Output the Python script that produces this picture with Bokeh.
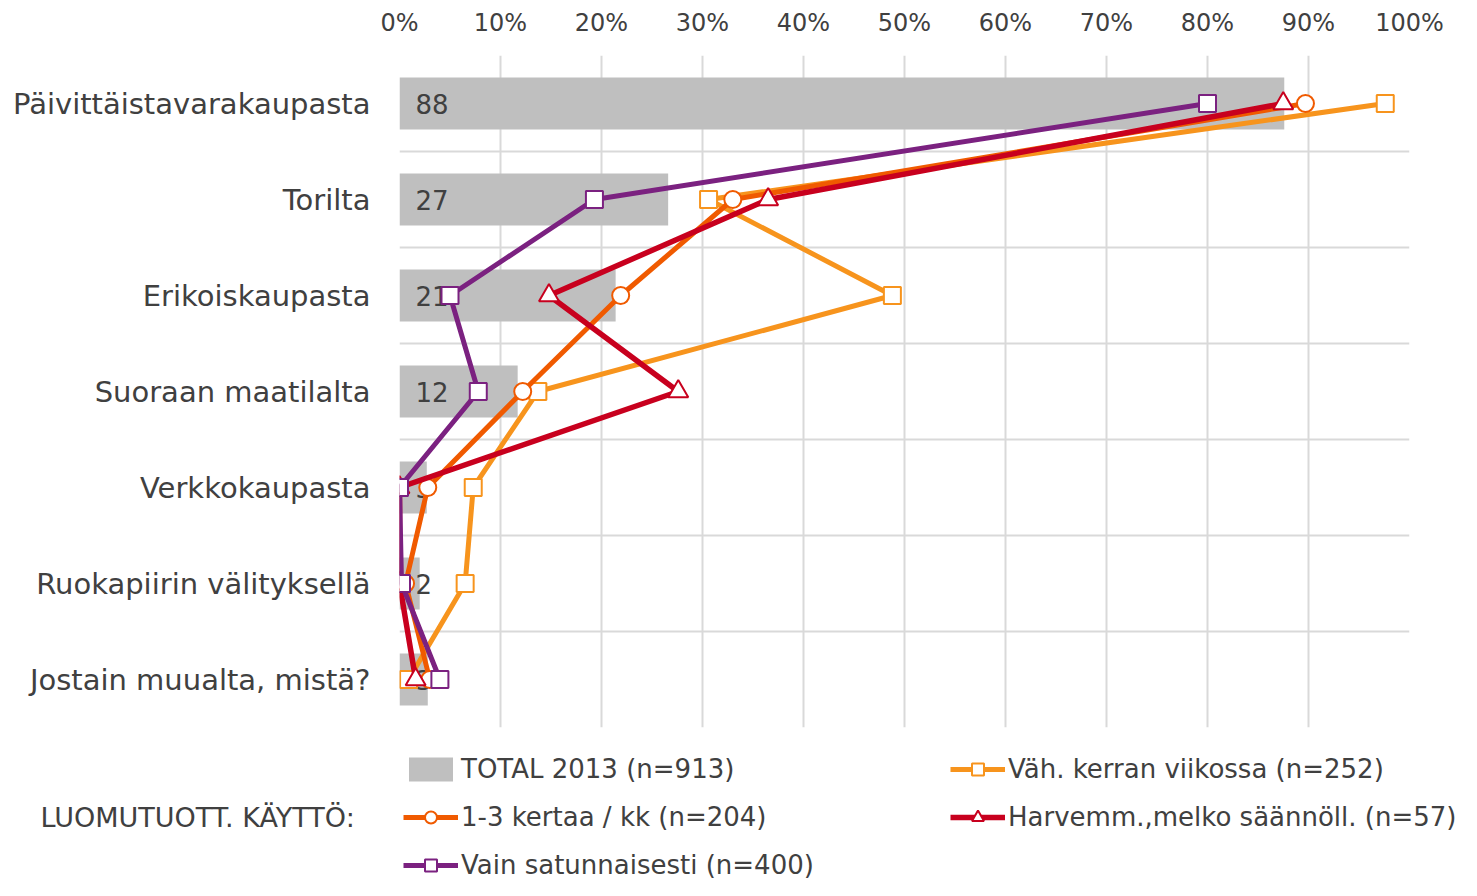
from bokeh.plotting import figure
from bokeh.layouts import column
from bokeh.models import Range1d, FixedTicker, Legend, LegendItem, Label
from bokeh.core.properties import value
from bokeh.embed import file_html
from bokeh.resources import INLINE

categories = ["Päivittäistavarakaupasta", "Torilta", "Erikoiskaupasta",
              "Suoraan maatilalta", "Verkkokaupasta", "Ruokapiirin välityksellä",
              "Jostain muualta, mistä?"]
total_2013 = [87.6, 26.6, 21.4, 11.7, 2.7, 2.0, 2.8]
vah_viikossa = [97.6, 30.6, 48.8, 13.7, 7.3, 6.5, 0.9]
kertaa_kk = [89.7, 33.0, 21.9, 12.2, 2.8, 0.6, 3.0]
harvemm = [87.5, 36.5, 14.8, 27.6, 0.0, 0.0, 1.6]
vain_satunn = [80.0, 19.3, 5.0, 7.8, 0.0, 0.2, 4.0]
x_ticks = list(range(0, 101, 10))

FONT = "DejaVu Sans"
TXT = "#404040"
BAR = "#BFBFBF"
n = len(categories)
ypos = [i + 0.5 for i in range(n)]

MAIN_H = 729
p = figure(width=1461, height=MAIN_H, output_backend="svg", toolbar_location=None,
           x_range=Range1d(0, 100), y_range=Range1d(n, 0),
           x_axis_location="above", title=None,
           min_border_left=399, min_border_right=52,
           min_border_top=55, min_border_bottom=2)
p.outline_line_color = None

xa = p.xaxis[0]
xa.ticker = FixedTicker(ticks=x_ticks)
xa.major_label_overrides = {t: f"{t}%" for t in x_ticks}
xa.axis_line_color = None
xa.major_tick_line_color = None
xa.minor_tick_line_color = None
xa.major_label_standoff = 13
xa.major_label_text_font = FONT
xa.major_label_text_font_size = "24px"
xa.major_label_text_color = TXT

ya = p.yaxis[0]
ya.ticker = FixedTicker(ticks=ypos)
ya.major_label_overrides = {yv: c for yv, c in zip(ypos, categories)}
ya.axis_line_color = None
ya.major_tick_line_color = None
ya.minor_tick_line_color = None
ya.major_label_standoff = 23
ya.major_label_text_font = FONT
ya.major_label_text_font_size = "29px"
ya.major_label_text_color = TXT

p.xgrid.ticker = FixedTicker(ticks=x_ticks)
p.ygrid.ticker = FixedTicker(ticks=list(range(n + 1)))
for g in (p.xgrid[0], p.ygrid[0]):
    g.grid_line_color = "#D9D9D9"
    g.grid_line_width = 2

p.hbar(y=ypos, left=0, right=total_2013, height=0.54,
       fill_color=BAR, line_color=None)
p.text(x=[0] * n, y=ypos, text=[str(round(v)) for v in total_2013],
       x_offset=16, text_baseline="middle", text_align="left",
       text_font=value(FONT), text_font_size="26px", text_color=TXT)

series = [
    ("Väh. kerran viikossa (n=252)", vah_viikossa, "#F7941D", "square", 17, 5),
    ("1-3 kertaa / kk (n=204)", kertaa_kk, "#F05A00", "circle", 17, 5),
    ("Harvemm.,melko säännöll. (n=57)", harvemm, "#C8001E", "triangle", 20, 5.5),
    ("Vain satunnaisesti (n=400)", vain_satunn, "#7B2180", "square", 17, 5),
]
for name, vals, col, mk, sz, lw in series:
    p.line(vals, ypos, line_color=col, line_width=lw)
    p.scatter(vals, ypos, marker=mk, size=sz, fill_color="white",
              line_color=col, line_width=2)

# legend panel: a second figure whose view ranges exclude all the data, so its
# glyphs are only seen inside the legend
LH = 880 - MAIN_H
lg = figure(width=1461, height=LH, output_backend="svg", toolbar_location=None,
            x_range=Range1d(-300, -200), y_range=Range1d(-300, -200),
            x_axis_type=None, y_axis_type=None, title=None,
            min_border=0)
lg.outline_line_color = None
if "frame_align" in lg.properties():
    lg.frame_align = False

items = {}
items["TOTAL 2013 (n=913)"] = LegendItem(
    label="TOTAL 2013 (n=913)",
    renderers=[lg.hbar(y=ypos, left=0, right=total_2013, height=0.54,
                       fill_color=BAR, line_color=None)])
for name, vals, col, mk, sz, lw in series:
    ln = lg.line(vals, ypos, line_color=col, line_width=lw)
    sc = lg.scatter(vals, ypos, marker=mk, size=sz, fill_color="white",
                    line_color=col, line_width=2)
    items[name] = LegendItem(label=name, renderers=[ln, sc])

common = dict(orientation="vertical", padding=0, margin=0, spacing=18,
              glyph_width=55, glyph_height=30, label_height=30,
              label_standoff=3, label_text_font=FONT,
              label_text_font_size="26px", label_text_color=TXT,
              border_line_color=None, background_fill_alpha=0)

leg1 = Legend(items=[items["TOTAL 2013 (n=913)"],
                     items["1-3 kertaa / kk (n=204)"],
                     items["Vain satunnaisesti (n=400)"]],
              location=(403, 0), **common)
leg2 = Legend(items=[items["Väh. kerran viikossa (n=252)"],
                     items["Harvemm.,melko säännöll. (n=57)"]],
              location=(950, 48), **common)
lg.add_layout(leg1)
lg.add_layout(leg2)
lg.add_layout(Label(x=40, y=63, x_units="screen", y_units="screen",
                    text="LUOMUTUOTT. KÄYTTÖ:", text_baseline="middle",
                    text_align="left", text_font=FONT, text_font_size="27px",
                    text_color=TXT))

layout = column(p, lg, spacing=0)
open("out.html", "w").write(file_html(layout, INLINE))
